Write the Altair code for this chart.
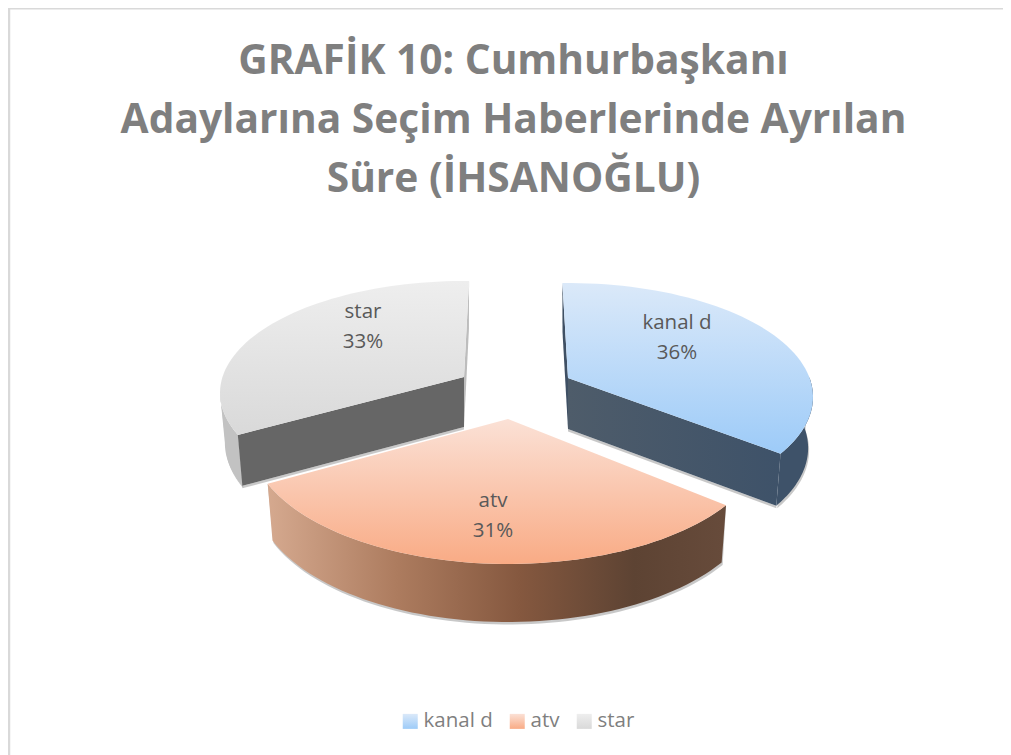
import math
import altair as alt

# ---- values
names = ["kanal d", "atv", "star"]
shares = [36, 31, 33]
title_lines = ["GRAFİK 10: Cumhurbaşkanı", "Adaylarına Seçim Haberlerinde Ayrılan", "Süre (İHSANOĞLU)"]

# ---- look of the pseudo-3D pie (pixels in the chart's own frame)
W, H = 995, 747
ROT, WARP, N = -1.0, 9.0, 60
LOOK = {
    "kanal d": dict(c=(560, 389), rx=245, ry=114, lift=19, depth=51, label=(669, 315), trim=(0, 0)),
    "atv":     dict(c=(500, 430), rx=258, ry=126, lift=19, depth=56, label=(485, 493), trim=(2.5, 0.7)),
    "star":    dict(c=(456, 385), rx=244, ry=112, lift=16, depth=50, label=(355, 304), trim=(0, 2.5)),
}
TOP_STOPS = {
    "kanal d": ("#dbe9f9", "#9dcbf8"),
    "atv": ("#fbe1d6", "#f9ab85"),
    "star": ("#eeeeee", "#d9d9d9"),
}
FONT = "Open Sans"


def warp(theta):
    return theta + WARP * math.sin(math.radians(2 * theta))


def rim(s, t, bottom=False):
    cx, cy = s["c"]
    rx, ry = s["rx"], s["ry"]
    if bottom:
        rx, ry, cy = rx * 0.98, ry + 2, cy + s["depth"]
    a = math.radians(t)
    return [cx + rx * math.sin(a), cy - ry * math.cos(a)]


def feature(points, name):
    ring = points + [points[0]]
    return {"type": "Feature", "properties": {"name": name},
            "geometry": {"type": "Polygon", "coordinates": [ring]}}


def span(a, b):
    return [a + (b - a) * i / N for i in range(N + 1)]


def gradient_h(*stops):
    return alt.LinearGradient(gradient="linear", x1=0, x2=1, y1=0, y2=0,
                              stops=[alt.GradientStop(offset=o, color=c) for o, c in stops])


proj = dict(type="identity", scale=1, translate=[0, 0])


def shape(features, fill, **kw):
    return alt.Chart(alt.Data(values=features)).mark_geoshape(
        fill=fill, strokeOpacity=0, **kw).project(**proj)


# turn the shares into arcs
total = sum(shares)
edges, acc = {}, ROT
for n, v in zip(names, shares):
    d = 360 * v / total
    edges[n] = (warp(acc) + LOOK[n]["trim"][0], warp(acc + d) + LOOK[n]["trim"][1])
    acc += d

WALL_OUTER = {
    "kanal d": "#3e5269",
    "atv": gradient_h((0, "#d5a98f"), (0.28, "#ad7c5f"), (0.55, "#85583f"), (0.8, "#5d4333"), (1, "#674b3b")),
    "star": "#c2c2c2",
}
# which edge of the slice faces the viewer, and the fill of both cut faces
FACES = {
    "kanal d": dict(front=1, front_fill=gradient_h((0, "#4e5c6a"), (1, "#3e5269")), back_fill="#3f5064"),
    "star": dict(front=0, front_fill="#666666", back_fill="#bdbdbd"),
}
ARC_WALL = {"kanal d": lambda a, b: (80, b), "atv": lambda a, b: (a, b), "star": lambda a, b: (a, 270)}

layers = []
for n in ["star", "kanal d", "atv"]:
    s = LOOK[n]
    t0, t1 = edges[n]
    apex = [s["c"][0], s["c"][1] - s["lift"]]
    apex_b = [apex[0], apex[1] + s["depth"]]

    a, b = ARC_WALL[n](t0, t1)
    wall_pts = [rim(s, t) for t in span(a, b)] + [rim(s, t, True) for t in reversed(span(a, b))]
    shadow = [[x + 1, y + 2.5] for x, y in [rim(s, t, True) for t in span(a, b)]] + [rim(s, t) for t in reversed(span(a, b))]
    layers.append(shape([feature(shadow, n)], "#9a9a9a", opacity=0.55))

    if n in FACES:
        f = FACES[n]
        t_front, t_back = (t1, t0) if f["front"] else (t0, t1)
        layers.append(shape([feature([apex, rim(s, t_back), rim(s, t_back, True), apex_b], n)], f["back_fill"]))
    layers.append(shape([feature(wall_pts, n)], WALL_OUTER[n]))

    if n in FACES:
        end_b = rim(s, t_front, True)
        sh = [apex_b, end_b, [end_b[0], end_b[1] + 2.5], [apex_b[0], apex_b[1] + 2.5]]
        layers.append(shape([feature(sh, n)], "#9a9a9a", opacity=0.55))
        layers.append(shape([feature([apex, rim(s, t_front), end_b, apex_b], n)], f["front_fill"]))

    top_pts = [apex] + [rim(s, t) for t in span(t0, t1)]
    layers.append(
        alt.Chart(alt.Data(values=[feature(top_pts, n)])).mark_geoshape(strokeOpacity=0).encode(
            color=alt.Color(
                "properties.name:N",
                scale=alt.Scale(
                    domain=names,
                    range=[{"expr": "{gradient:'linear',x1:0,y1:0,x2:0,y2:1,stops:[{offset:0,color:'%s'},{offset:1,color:'%s'}]}" % TOP_STOPS[k]}
                           for k in names],
                ),
                legend=alt.Legend(
                    title=None, orient="none", legendX=392, legendY=703, direction="horizontal",
                    symbolType="square", symbolSize=225, symbolStrokeWidth=0, symbolOpacity=1,
                    labelFont=FONT, labelFontSize=20.5, labelColor="#7f7f7f", columnPadding=14,
                    labelOffset=3, values=names,
                ),
            )
        ).project(**proj)
    )

labels = [{"text": f"{n}\n{v}%", "lx": LOOK[n]["label"][0], "ly": LOOK[n]["label"][1]} for n, v in zip(names, shares)]
label_layer = alt.Chart(alt.Data(values=labels)).mark_text(
    font=FONT, fontSize=20.5, color="#595959", lineBreak="\n", lineHeight=30, baseline="middle"
).encode(x=alt.X("lx:Q", scale=None), y=alt.Y("ly:Q", scale=None), text="text:N")

border_left = alt.Chart(alt.Data(values=[{}])).mark_rule(color="#d9d9d9", strokeWidth=2.5).encode(
    x=alt.value(1), y=alt.value(0), y2=alt.value(H))
border_top = alt.Chart(alt.Data(values=[{}])).mark_rule(color="#d9d9d9", strokeWidth=2).encode(
    y=alt.value(0.5), x=alt.value(0), x2=alt.value(W))

chart = alt.layer(border_left, border_top, *layers, label_layer).properties(
    width=W, height=H, padding=0,
    autosize=alt.AutoSizeParams(type="none"),
    title=alt.TitleParams(text=title_lines, font=FONT, fontSize=40.7, fontWeight="bold", color="#7f7f7f",
                          lineHeight=59, anchor="middle", offset=-193.5, dx=8, baseline="top"),
).configure_view(strokeOpacity=0).configure_axis(disable=True).resolve_scale(color="shared")

chart.save("out.html", embed_options={"renderer": "svg", "actions": False})
